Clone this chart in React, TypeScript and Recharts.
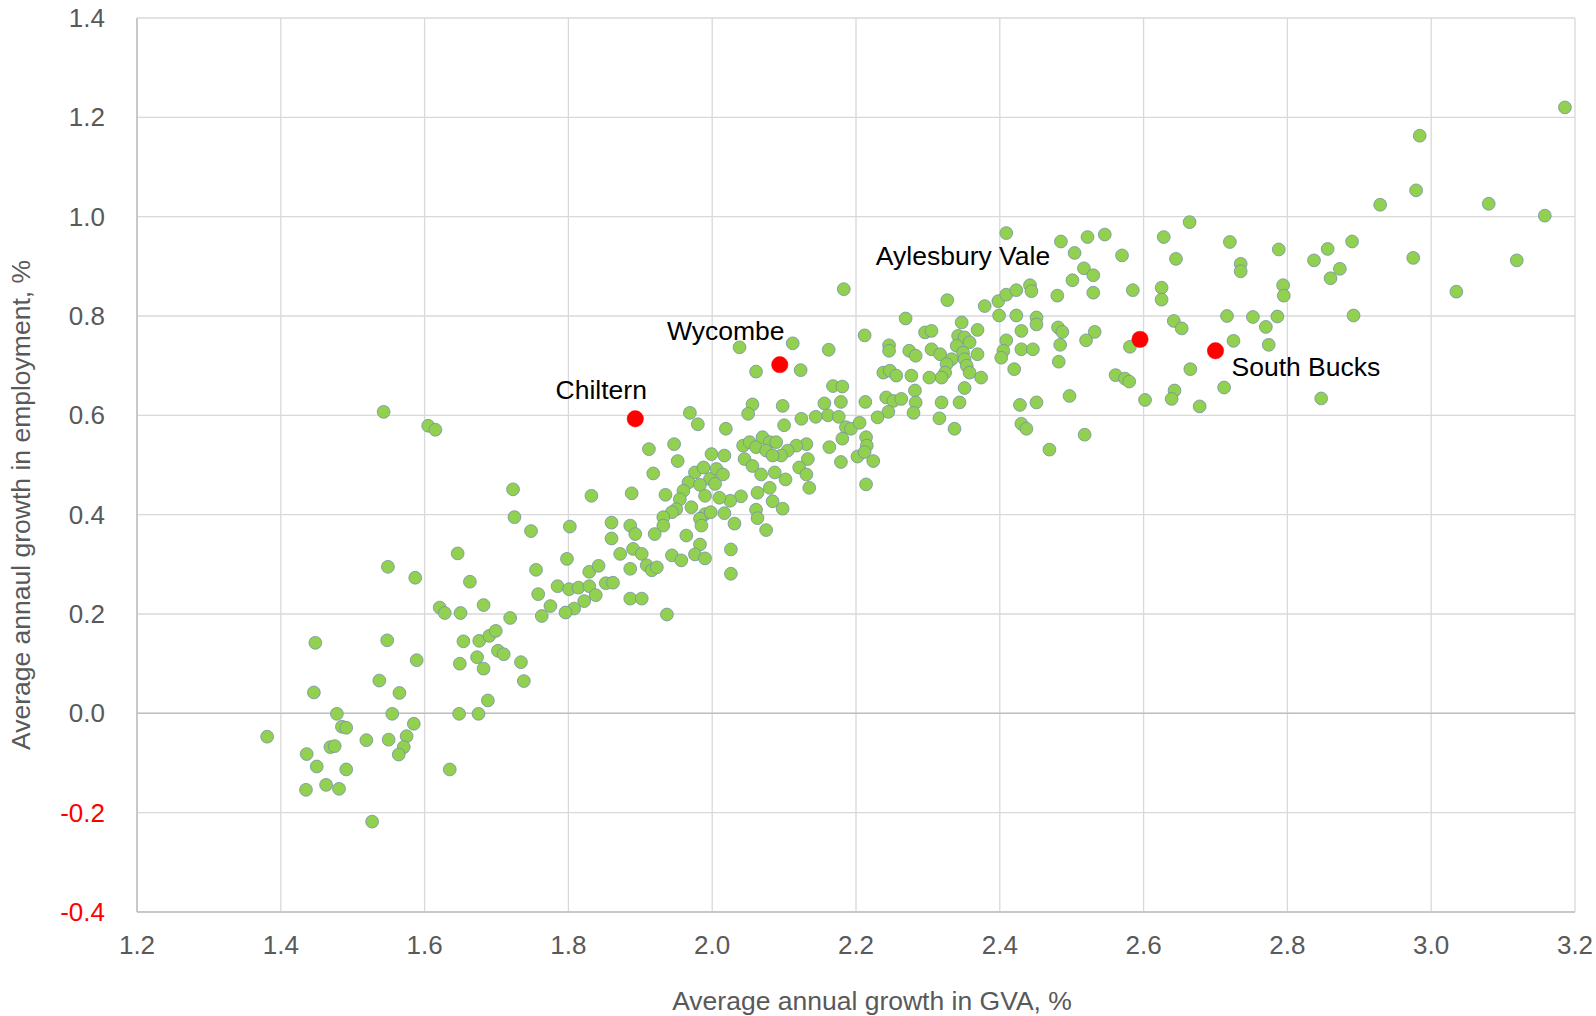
import React from 'react';
import { ScatterChart, Scatter, XAxis, YAxis, CartesianGrid, ReferenceLine } from 'recharts';

// [GVA growth %, employment growth %] per local authority
const areaPoints: [number, number][] = [
  [1.381,-0.047],[1.448,0.142],[1.446,0.042],[1.478,-0.001],[1.485,-0.027],[1.491,-0.029],[1.519,-0.054],[1.469,-0.068],[1.475,-0.066],[1.436,-0.082],
  [1.450,-0.107],[1.491,-0.113],[1.463,-0.144],[1.435,-0.154],[1.481,-0.152],[1.548,0.147],[1.537,0.066],[1.565,0.041],[1.589,0.107],[1.555,-0.001],
  [1.585,-0.021],[1.550,-0.053],[1.575,-0.046],[1.571,-0.068],[1.564,-0.083],[1.635,-0.113],[1.648,-0.001],[1.675,-0.001],[1.688,0.026],[1.649,0.100],
  [1.673,0.113],[1.682,0.090],[1.654,0.145],[1.676,0.146],[1.690,0.156],[1.699,0.166],[1.702,0.126],[1.710,0.119],[1.734,0.103],[1.738,0.065],
  [1.621,0.213],[1.628,0.202],[1.650,0.202],[1.682,0.218],[1.719,0.192],[1.527,-0.218],
  [1.543,0.607],[1.605,0.579],[1.615,0.571],[1.723,0.451],[1.725,0.395],[1.748,0.367],[1.646,0.322],[1.549,0.295],[1.587,0.273],[1.663,0.265],
  [1.755,0.289],[1.758,0.240],
  [1.832,0.438],[1.802,0.376],[1.860,0.384],[1.860,0.352],[1.798,0.311],[1.872,0.321],[1.829,0.285],[1.842,0.297],[1.852,0.262],[1.862,0.263],
  [1.785,0.256],[1.801,0.250],[1.814,0.253],[1.829,0.256],[1.838,0.238],[1.822,0.226],[1.808,0.211],[1.796,0.203],[1.775,0.216],[1.763,0.196],
  [1.969,0.605],[1.980,0.582],[1.912,0.532],[1.947,0.542],[1.952,0.508],[1.999,0.522],[1.918,0.483],[1.888,0.443],[1.935,0.440],[1.976,0.485],
  [1.988,0.495],[1.997,0.472],[1.967,0.465],[1.983,0.460],[1.960,0.448],[1.955,0.431],[1.950,0.411],[1.944,0.405],[1.932,0.395],[1.932,0.378],
  [1.971,0.415],[1.990,0.438],[1.990,0.401],[1.983,0.392],[1.985,0.378],[1.998,0.405],[1.886,0.378],[1.893,0.361],[1.890,0.331],[1.902,0.321],
  [1.909,0.298],[1.916,0.288],[1.923,0.294],[1.920,0.361],[1.944,0.318],[1.957,0.308],[1.964,0.358],[1.983,0.340],[1.976,0.320],[1.990,0.312],
  [1.886,0.231],[1.902,0.231],[1.937,0.199],[1.886,0.291],
  [2.038,0.737],[2.112,0.745],[2.162,0.732],[2.061,0.688],[2.123,0.691],[2.168,0.659],[2.181,0.658],[2.056,0.622],[2.050,0.603],[2.098,0.619],
  [2.156,0.624],[2.161,0.600],[2.179,0.627],[2.124,0.593],[2.144,0.597],[2.176,0.597],[2.186,0.576],[2.193,0.573],[2.205,0.585],[2.213,0.627],
  [2.214,0.556],[2.181,0.553],[2.100,0.580],[2.019,0.573],[2.163,0.536],[2.202,0.517],[2.179,0.506],[2.214,0.461],[2.131,0.542],[2.117,0.539],
  [2.105,0.529],[2.096,0.519],[2.133,0.512],[2.121,0.495],[2.131,0.481],[2.135,0.454],[2.102,0.471],[2.043,0.539],[2.052,0.546],[2.061,0.536],
  [2.070,0.556],[2.080,0.546],[2.089,0.546],[2.075,0.529],[2.084,0.519],[2.045,0.512],[2.056,0.498],[2.068,0.481],[2.087,0.485],[2.080,0.454],
  [2.063,0.444],[2.040,0.437],[2.025,0.428],[2.010,0.434],[2.017,0.519],[2.006,0.492],[2.015,0.481],[2.004,0.462],[2.061,0.410],[2.063,0.393],
  [2.084,0.427],[2.098,0.412],[2.075,0.369],[2.017,0.403],[2.031,0.382],[2.026,0.330],[2.026,0.281],
  [2.409,0.967],[2.183,0.854],[2.327,0.832],[2.379,0.820],[2.398,0.830],[2.409,0.843],[2.423,0.852],[2.442,0.862],[2.444,0.850],[2.269,0.795],
  [2.399,0.801],[2.423,0.801],[2.451,0.797],[2.347,0.787],[2.212,0.761],[2.296,0.767],[2.305,0.770],[2.369,0.772],[2.342,0.760],[2.351,0.757],
  [2.358,0.747],[2.430,0.770],[2.409,0.751],[2.451,0.783],[2.246,0.741],[2.246,0.730],[2.274,0.730],[2.283,0.720],[2.305,0.733],[2.317,0.723],
  [2.340,0.740],[2.349,0.726],[2.369,0.723],[2.333,0.713],[2.430,0.733],[2.446,0.733],[2.405,0.730],[2.402,0.716],[2.351,0.713],[2.354,0.700],
  [2.358,0.686],[2.326,0.703],[2.324,0.686],[2.319,0.676],[2.420,0.693],[2.374,0.676],[2.238,0.686],[2.247,0.690],[2.256,0.680],[2.277,0.680],
  [2.302,0.676],[2.351,0.655],[2.242,0.636],[2.252,0.629],[2.263,0.633],[2.282,0.650],[2.283,0.626],[2.319,0.626],[2.344,0.626],[2.428,0.621],
  [2.451,0.626],[2.245,0.607],[2.230,0.596],[2.280,0.605],[2.316,0.594],[2.337,0.573],[2.430,0.583],[2.437,0.573],[2.215,0.539],[2.212,0.526],
  [2.224,0.508],
  [2.485,0.950],[2.522,0.959],[2.546,0.964],[2.504,0.927],[2.570,0.922],[2.628,0.959],[2.664,0.989],[2.645,0.915],[2.517,0.896],[2.530,0.882],
  [2.501,0.872],[2.480,0.841],[2.530,0.847],[2.585,0.852],[2.625,0.857],[2.625,0.833],[2.481,0.777],[2.487,0.768],[2.484,0.742],[2.532,0.768],
  [2.520,0.751],[2.482,0.708],[2.581,0.738],[2.642,0.790],[2.653,0.775],[2.561,0.681],[2.574,0.674],[2.580,0.668],[2.665,0.693],[2.497,0.639],
  [2.602,0.631],[2.643,0.650],[2.639,0.633],[2.678,0.618],[2.518,0.561],[2.469,0.531],
  [2.929,1.024],[2.720,0.949],[2.788,0.934],[2.735,0.905],[2.735,0.890],[2.837,0.912],[2.856,0.935],[2.890,0.950],[2.873,0.895],[2.860,0.876],
  [2.794,0.862],[2.795,0.841],[2.716,0.800],[2.752,0.798],[2.786,0.799],[2.770,0.778],[2.892,0.801],[2.725,0.750],[2.774,0.742],[2.712,0.656],
  [2.847,0.634],
  [2.984,1.163],[2.979,1.053],[3.080,1.026],[3.158,1.002],[2.975,0.917],[3.119,0.912],[3.035,0.849],[3.186,1.220],
];

const namedAreas = ['Chiltern', 'Wycombe', 'Aylesbury Vale', 'South Bucks'];
const namedGva = [1.893, 2.094, 2.595, 2.700];
const namedEmp = [0.593, 0.702, 0.753, 0.730];

const xTicks = [1.2, 1.4, 1.6, 1.8, 2.0, 2.2, 2.4, 2.6, 2.8, 3.0, 3.2];
const yTicks = [-0.4, -0.2, 0.0, 0.2, 0.4, 0.6, 0.8, 1.0, 1.2, 1.4];

const FONT = '"Liberation Sans", Arial, sans-serif';
const TICK_COLOR = '#595959';

const areaData = areaPoints.map(([x, y]) => ({ x, y }));
const namedData = namedAreas.map((name, i) => ({ name, x: namedGva[i], y: namedEmp[i] }));

// label placement relative to the marker (styling, not data)
const labelStyle: Record<string, { dx: number; dy: number; anchor: 'start' | 'middle' | 'end' }> = {
  'Chiltern': { dx: -34, dy: -20, anchor: 'middle' },
  'Wycombe': { dx: -54, dy: -25, anchor: 'middle' },
  'Aylesbury Vale': { dx: -177, dy: -74, anchor: 'middle' },
  'South Bucks': { dx: 16, dy: 25, anchor: 'start' },
};

const GreenDot = (props: any) => {
  const { cx, cy } = props;
  if (cx == null || cy == null) return null;
  return <circle cx={cx} cy={cy} r={6.4} fill="#92D050" stroke="#7391a6" strokeWidth={0.8} />;
};

const RedDot = (props: any) => {
  const { cx, cy, payload } = props;
  if (cx == null || cy == null) return null;
  const s = labelStyle[payload.name] || { dx: 0, dy: -15, anchor: 'middle' };
  return (
    <g>
      <circle cx={cx} cy={cy} r={8.2} fill="#FF0000" stroke="#FF0000" strokeWidth={0.5} />
      <text x={cx + s.dx} y={cy + s.dy} textAnchor={s.anchor} fontSize={26.5} fontFamily={FONT} fill="#000">
        {payload.name}
      </text>
    </g>
  );
};

const XTick = (props: any) => {
  const { x, y, payload } = props;
  return (
    <text x={x} y={y} dy="0.71em" textAnchor="middle" fontSize={26} fontFamily={FONT} fill={TICK_COLOR}>
      {Number(payload.value).toFixed(1)}
    </text>
  );
};

const YTick = (props: any) => {
  const { x, y, payload } = props;
  const v = Number(payload.value);
  return (
    <text x={x} y={y} dy="0.35em" textAnchor="end" fontSize={26} fontFamily={FONT} fill={v < 0 ? '#FF0000' : TICK_COLOR}>
      {v.toFixed(1)}
    </text>
  );
};

export default function App() {
  return (
    <div style={{ position: 'absolute', left: 0, top: 0, width: 1596, height: 1016, background: '#fff' }}>
      <ScatterChart width={1596} height={1016} margin={{ top: 18, right: 21, bottom: 44, left: 67 }}>
        <CartesianGrid stroke="#d9d9d9" strokeWidth={1.3} />
        <XAxis
          type="number"
          dataKey="x"
          domain={[1.2, 3.2]}
          ticks={xTicks}
          interval={0}
          allowDataOverflow
          height={60}
          axisLine={{ stroke: '#bfbfbf', strokeWidth: 1.5 }}
          tickLine={false}
          tickSize={0}
          tickMargin={24}
          tick={<XTick />}
        />
        <YAxis
          type="number"
          dataKey="y"
          domain={[-0.4, 1.4]}
          ticks={yTicks}
          interval={0}
          allowDataOverflow
          width={70}
          axisLine={{ stroke: '#bfbfbf', strokeWidth: 1.5 }}
          tickLine={false}
          tickSize={0}
          tickMargin={32}
          tick={<YTick />}
        />
        <ReferenceLine y={0} stroke="#bfbfbf" strokeWidth={1.5} />
        <Scatter data={areaData} shape={<GreenDot />} isAnimationActive={false} />
        <Scatter data={namedData} shape={<RedDot />} isAnimationActive={false} />
      </ScatterChart>
      <svg width={1596} height={1016} style={{ position: 'absolute', left: 0, top: 0, pointerEvents: 'none' }}>
        <text
          x={0}
          y={0}
          transform="translate(21,505) rotate(-90)"
          textAnchor="middle"
          dominantBaseline="central"
          fontSize={26.5}
          fontFamily={FONT}
          fill={TICK_COLOR}
        >
          Average annaul growth in employment, %
        </text>
        <text x={872} y={1001} textAnchor="middle" dominantBaseline="central" fontSize={26.5} fontFamily={FONT} fill={TICK_COLOR}>
          Average annual growth in GVA, %
        </text>
      </svg>
    </div>
  );
}
